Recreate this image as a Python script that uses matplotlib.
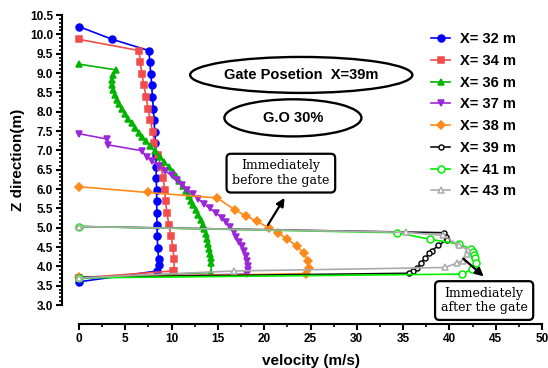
import matplotlib
matplotlib.use("Agg")
import matplotlib.pyplot as plt
from matplotlib.patches import Ellipse
from matplotlib.ticker import MultipleLocator

plt.rcParams['font.family'] = ['Liberation Sans', 'DejaVu Sans']
plt.rcParams['font.weight'] = 'bold'

# X = 32 m
x32 = [0, 3.6, 7.55, 7.65, 7.75, 7.85, 7.93, 8.03, 8.1, 8.18, 8.25, 8.3, 8.32, 8.35,
       8.37, 8.4, 8.4, 8.42, 8.45, 8.5, 8.6, 8.6, 8.45, 0]
z32 = [10.2, 9.87, 9.58, 9.28, 8.98, 8.68, 8.38, 8.08, 7.78, 7.48, 7.18, 6.88, 6.58, 6.28,
       5.98, 5.68, 5.38, 5.08, 4.78, 4.48, 4.18, 4.03, 3.88, 3.6]
# X = 34 m
x34 = [0, 6.5, 6.6, 6.8, 7.0, 7.25, 7.45, 7.7, 7.95, 8.15, 8.5, 8.85, 9.1, 9.25,
       9.35, 9.5, 9.7, 9.95, 10.15, 10.27, 10.27, 10.15, 0]
z34 = [9.87, 9.58, 9.28, 8.98, 8.68, 8.38, 8.08, 7.78, 7.48, 7.18, 6.88, 6.58, 6.28, 5.98,
       5.68, 5.38, 5.08, 4.78, 4.48, 4.18, 3.88, 3.88, 3.7]
# X = 36 m
x36 = [0, 4.0, 3.7, 3.55, 3.6, 3.7, 3.9, 4.1, 4.35, 4.65, 4.97, 5.3, 5.69, 6.05, 6.45,
       6.85, 7.24, 7.7, 8.2, 8.7, 9.2, 9.7, 10.1, 10.45, 10.8, 11.2, 11.55, 11.85, 12.1,
       12.36, 12.65, 12.9, 13.15, 13.35, 13.55, 13.7, 13.85, 13.97, 14.08, 14.17, 14.24,
       14.27, 14.28, 0]
z36 = [9.23, 9.08, 8.95, 8.82, 8.69, 8.56, 8.43, 8.3, 8.2, 8.07, 7.94, 7.82, 7.7, 7.58,
       7.46, 7.34, 7.23, 7.1, 6.97, 6.84, 6.71, 6.58, 6.45, 6.33, 6.2, 6.08, 5.95, 5.83,
       5.7, 5.58, 5.46, 5.33, 5.21, 5.08, 4.96, 4.83, 4.71, 4.58, 4.46, 4.33, 4.21, 4.08,
       3.84, 3.7]
# X = 37 m
x37 = [0, 3.06, 3.17, 6.77, 7.3, 7.9, 8.6, 9.3, 10.0, 10.6, 11.1, 11.7, 12.3, 12.9,
       13.5, 14.1, 14.8, 15.4, 15.9, 16.3, 16.7, 17.0, 17.3, 17.6, 17.8, 18.0, 18.15,
       18.25, 18.25, 18.1, 0]
z37 = [7.43, 7.29, 7.14, 6.99, 6.84, 6.72, 6.6, 6.47, 6.35, 6.23, 6.11, 5.98, 5.86, 5.74,
       5.62, 5.5, 5.38, 5.26, 5.14, 5.01, 4.89, 4.77, 4.64, 4.52, 4.4, 4.27, 4.15, 4.02,
       3.9, 3.8, 3.7]
# X = 38 m
x38 = [0, 7.4, 14.9, 16.9, 18.0, 19.2, 20.5, 21.5, 22.5, 23.5, 24.25, 24.7, 24.8, 24.5, 0]
z38 = [6.06, 5.91, 5.77, 5.45, 5.31, 5.16, 5.0, 4.87, 4.7, 4.53, 4.34, 4.14, 3.95, 3.81, 3.72]
# X = 39 m
x39 = [0, 39.4, 39.6, 39.75, 38.8, 38.1, 37.8, 37.4, 36.9, 36.5, 36.1, 35.6, 0]
z39 = [5.03, 4.87, 4.77, 4.69, 4.54, 4.4, 4.34, 4.21, 4.08, 3.95, 3.87, 3.82, 3.72]
# X = 41 m
x41 = [0, 34.3, 37.9, 41.0, 42.3, 42.6, 42.7, 42.8, 42.9, 42.45, 41.4, 0]
z41 = [5.03, 4.87, 4.7, 4.58, 4.45, 4.38, 4.3, 4.21, 4.08, 3.93, 3.8, 3.7]
# X = 43 m
x43 = [0, 35.3, 39.3, 41.0, 42.0, 41.9, 41.5, 40.8, 39.5, 16.7, 0]
z43 = [5.03, 4.88, 4.8, 4.55, 4.42, 4.32, 4.15, 4.08, 3.97, 3.88, 3.7]

series = [
    (x32, z32, "X= 32 m", "#0000FF", "o", "#0000FF", 5),
    (x34, z34, "X= 34 m", "#F24B4B", "s", "#F24B4B", 4.3),
    (x36, z36, "X= 36 m", "#00B400", "^", "#00B400", 4.5),
    (x37, z37, "X= 37 m", "#9B27D9", "v", "#9B27D9", 4.8),
    (x38, z38, "X= 38 m", "#FF8A1C", "D", "#FF8A1C", 3.6),
    (x39, z39, "X= 39 m", "#111111", "o", "white", 3.6),
    (x41, z41, "X= 41 m", "#00F000", "o", "white", 5),
    (x43, z43, "X= 43 m", "#ABABAB", "^", "white", 4.5),
]

W, H = 548, 368
fig = plt.figure(figsize=(W / 100, H / 100), dpi=100)
ax = fig.add_axes([79 / W, 1 - 305 / H, (542 - 79) / W, (305 - 15) / H])

for x, z, lab, col, mk, fc, ms in series:
    ax.plot(x, z, color=col, lw=1.2, marker=mk, markersize=ms, markerfacecolor=fc,
            markeredgecolor=col, markeredgewidth=1.1, label=lab, clip_on=False, zorder=3)

ax.set_xlim(0, 50)
ax.set_ylim(3.0, 10.5)
ax.xaxis.set_major_locator(MultipleLocator(5))
ax.xaxis.set_minor_locator(MultipleLocator(2.5))
ax.yaxis.set_major_locator(MultipleLocator(0.5))
ax.yaxis.set_minor_locator(MultipleLocator(0.1))
ax.yaxis.set_major_formatter(plt.FormatStrFormatter('%.1f'))

for s in ['top', 'right']:
    ax.spines[s].set_visible(False)
ax.spines['left'].set_position(('outward', 12))
ax.spines['bottom'].set_position(('outward', 14))
for s in ['left', 'bottom']:
    ax.spines[s].set_linewidth(1.5)
ax.tick_params(which='major', direction='out', length=4.5, width=1.5, labelsize=8.5, pad=2)
ax.tick_params(which='minor', direction='out', length=2.5, width=1.2)
for t in ax.get_xticklabels() + ax.get_yticklabels():
    t.set_fontweight('bold')

ax.set_xlabel("velocity (m/s)", fontsize=11, fontweight='bold', labelpad=6)
ax.set_ylabel("Z direction(m)", fontsize=11, fontweight='bold', labelpad=4)

leg = ax.legend(loc='upper left', bbox_to_anchor=(424 / W, 1 - 25 / H),
                bbox_transform=fig.transFigure, frameon=False, fontsize=10.5,
                handlelength=1.3, handletextpad=0.7, labelspacing=0.53, borderpad=0)
for t in leg.get_texts():
    t.set_fontweight('bold')

# ellipses with gate info
e1 = Ellipse((24.0, 8.95), 24.0, 0.93, fill=False, lw=1.7, ec='black', clip_on=False)
e2 = Ellipse((23.1, 7.84), 14.8, 0.96, fill=False, lw=1.7, ec='black', clip_on=False)
ax.add_patch(e1)
ax.add_patch(e2)
ax.text(24.0, 8.95, "Gate Posetion  X=39m", ha='center', va='center', fontsize=10.5,
        fontweight='bold')
ax.text(23.1, 7.84, "G.O 30%", ha='center', va='center', fontsize=10.5, fontweight='bold')

box = dict(boxstyle='round,pad=0.45,rounding_size=0.35', fc='white', ec='black', lw=1.6)
arrow = dict(arrowstyle='-|>', color='black', lw=1.6, mutation_scale=12,
             shrinkA=0, shrinkB=0)
ax.annotate("", xy=(22.2, 5.77), xytext=(20.4, 5.07), arrowprops=arrow,
            annotation_clip=False)
ax.text(21.8, 6.41, "Immediately\nbefore the gate", ha='center', va='center',
        fontsize=9, family='DejaVu Serif', fontweight='normal', bbox=box,
        linespacing=1.15)
ax.annotate("", xy=(43.7, 3.74), xytext=(41.5, 4.2), arrowprops=arrow,
            annotation_clip=False)
ax.text(43.75, 3.115, "Immediately\nafter the gate", ha='center', va='center',
        fontsize=9, family='DejaVu Serif', fontweight='normal', bbox=box,
        linespacing=1.15, clip_on=False)

fig.savefig("out.png", dpi=100)
